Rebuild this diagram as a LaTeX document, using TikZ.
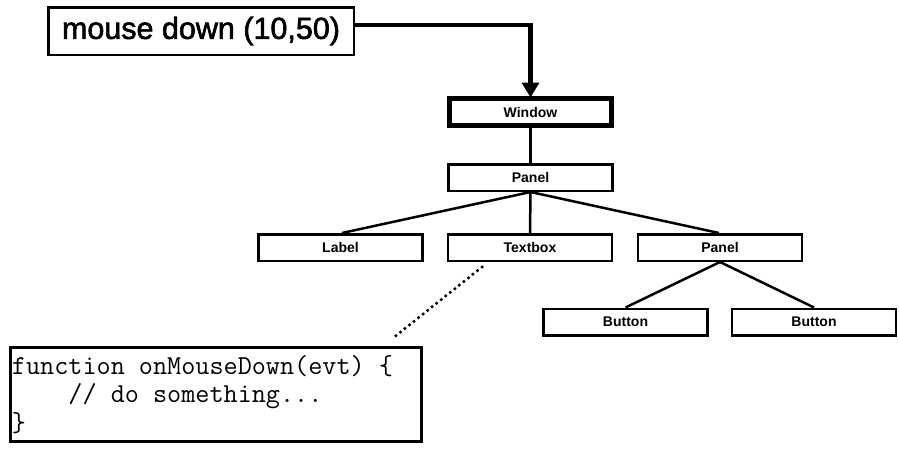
\documentclass[tikz,border=0pt]{standalone}
\usepackage{fontspec}
\setmainfont{Liberation Sans}
\newfontfamily\titlefont[FakeBold=2]{Liberation Sans}
\newcommand\tsp{\hphantom{x}}% one fixed-width cell of the typewriter font
\usetikzlibrary{arrows.meta,calc}
\tikzset{
  treebox/.style={draw, line width=2.5pt, minimum width=164pt, minimum height=26.5pt,
    inner sep=0pt, font=\fontsize{14}{16}\selectfont\bfseries},
  rootbox/.style={treebox, line width=5pt, minimum width=162pt, minimum height=27pt},
  eventbox/.style={draw, line width=2.5pt, minimum width=305.5pt, minimum height=47.5pt,
    inner sep=0pt, font=\titlefont\fontsize{30.5}{36}\selectfont},
  codebox/.style={draw, line width=3pt, minimum width=411pt, minimum height=94pt,
    inner xsep=1.5pt, inner ysep=0pt, text width=408pt, align=left,
    font=\ttfamily\fontsize{27.4}{28.5}\selectfont},
  treeline/.style={line width=2.5pt},
  eventline/.style={line width=4.5pt, -{Triangle[length=15pt,width=17pt]}},
  handlerline/.style={line width=3.5pt, line cap=round, dash pattern=on 0pt off 5.8pt}
}
\begin{document}
\begin{tikzpicture}[x=1pt,y=-1pt]
  \useasboundingbox[fill=white] (0,0) rectangle (899,455);

  % event source
  \node[eventbox] (mouse) at (201,31) {mouse down (10,50)};

  % widget tree
  \node[rootbox] (window) at (530.5,112) {Window};
  \node[treebox] (panel) at (530.5,177.5) {Panel};
  \node[treebox] (label) at (340.5,247.5) {Label};
  \node[treebox] (textbox) at (530,247.5) {Textbox};
  \node[treebox] (panelb) at (720,247.5) {Panel};
  \node[treebox] (buttona) at (625.5,322) {Button};
  \node[treebox] (buttonb) at (814,322) {Button};

  % handler code
  \node[codebox] (code) at (216,394.5)
    {function\tsp onMouseDown(evt)\tsp\{\\
     \tsp\tsp\tsp\tsp//\tsp do\tsp something...\\
     \}};

  % event delivered to the root window
  \coordinate (lvl) at (0,25);
  \draw[eventline] (mouse.east |- lvl) -| ([yshift=-1.5pt]window.north);

  % tree edges
  \draw[treeline] (window.south) -- (panel.north);
  \draw[treeline] (panel.south) -- ([xshift=1.5pt]label.north);
  \draw[treeline] (panel.south) -- (textbox.north);
  \draw[treeline] (panel.south) -- ([xshift=-1pt]panelb.north);
  \draw[treeline] (panelb.south) -- (buttona.north);
  \draw[treeline] (panelb.south) -- (buttonb.north);

  % link from the textbox to its handler
  \coordinate (hstart) at (482,267);
  \coordinate (hend) at (393,338);
  \draw[handlerline] (hstart) -- (hend);
\end{tikzpicture}
\end{document}
